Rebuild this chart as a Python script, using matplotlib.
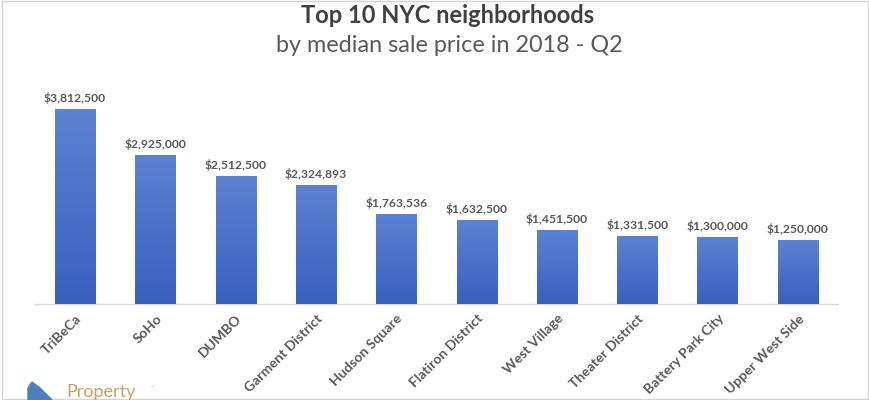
import matplotlib.pyplot as plt
import numpy as np
from matplotlib.colors import LinearSegmentedColormap
from matplotlib.patches import Rectangle, Polygon

# data
neighborhoods = ['TriBeCa', 'SoHo', 'DUMBO', 'Garment District', 'Hudson Square',
                 'Flatiron District', 'West Village', 'Theater District',
                 'Battery Park City', 'Upper West Side']
prices = [3812500, 2925000, 2512500, 2324893, 1763536,
          1632500, 1451500, 1331500, 1300000, 1250000]

plt.rcParams['font.family'] = ['Lato', 'DejaVu Sans']

fig = plt.figure(figsize=(8.7, 4.0), dpi=100)
ax = fig.add_axes([35 / 870, 0.24, 803 / 870, 0.509])

x = np.arange(len(prices))
bw = 0.5
bars = ax.bar(x, prices, width=bw, color='#4a70c9', zorder=2)

# vertical gradient in every bar (light on top, darker at bottom)
cmap = LinearSegmentedColormap.from_list('bluegrad', ['#3860bf', '#5d82d2'])
grad = np.linspace(0, 1, 256).reshape(-1, 1)
for b in bars:
    x0, w, h = b.get_x(), b.get_width(), b.get_height()
    ax.imshow(grad, extent=[x0, x0 + w, 0, h], origin='lower', aspect='auto',
              cmap=cmap, zorder=3)

ax.set_xlim(-0.5, len(prices) - 0.5)
ax.set_ylim(0, 4000000)

for xi, v in zip(x, prices):
    ax.annotate(f'${v:,.0f}', (xi, v), xytext=(0, 4), textcoords='offset points',
                ha='center', va='bottom', fontsize=8.7, fontweight='bold',
                color='#595959')

ax.set_xticks(x)
ax.set_xticklabels(neighborhoods, rotation=45, ha='right', rotation_mode='anchor',
                   fontsize=10, fontweight='bold', color='#595959')
ax.tick_params(axis='x', length=0, pad=6)
ax.set_yticks([])
for s in ['top', 'right', 'left']:
    ax.spines[s].set_visible(False)
ax.spines['bottom'].set_color('#d9d9d9')
ax.spines['bottom'].set_linewidth(1)

fig.text(0.514, 0.962, 'Top 10 NYC neighborhoods', ha='center', va='center',
         fontsize=17, fontweight='bold', color='#404040')
fig.text(0.516, 0.886, 'by median sale price in 2018 - Q2', ha='center',
         va='center', fontsize=16.8, color='#595959')

# logo in the bottom-left corner
fig.patches.append(Polygon([(28 / 870, 0.0), (28 / 870, 0.03), (32 / 870, 0.045),
                            (40 / 870, 0.03), (52 / 870, 0.0)], closed=True,
                           color='#4f7fb8', transform=fig.transFigure, zorder=5))
fig.text(66 / 870, 0.02, 'Property', fontsize=13, color='#c9a06a',
         ha='left', va='center')
fig.text(150 / 870, 0.034, '-', fontsize=6, color='#c9a06a', ha='left', va='center')

# light frame around the picture
fig.patches.append(Rectangle((0.002, 0.002), 0.996, 0.996, fill=False,
                             edgecolor='#d4d4d4', linewidth=1,
                             transform=fig.transFigure))

fig.savefig('out.png', dpi=100)
